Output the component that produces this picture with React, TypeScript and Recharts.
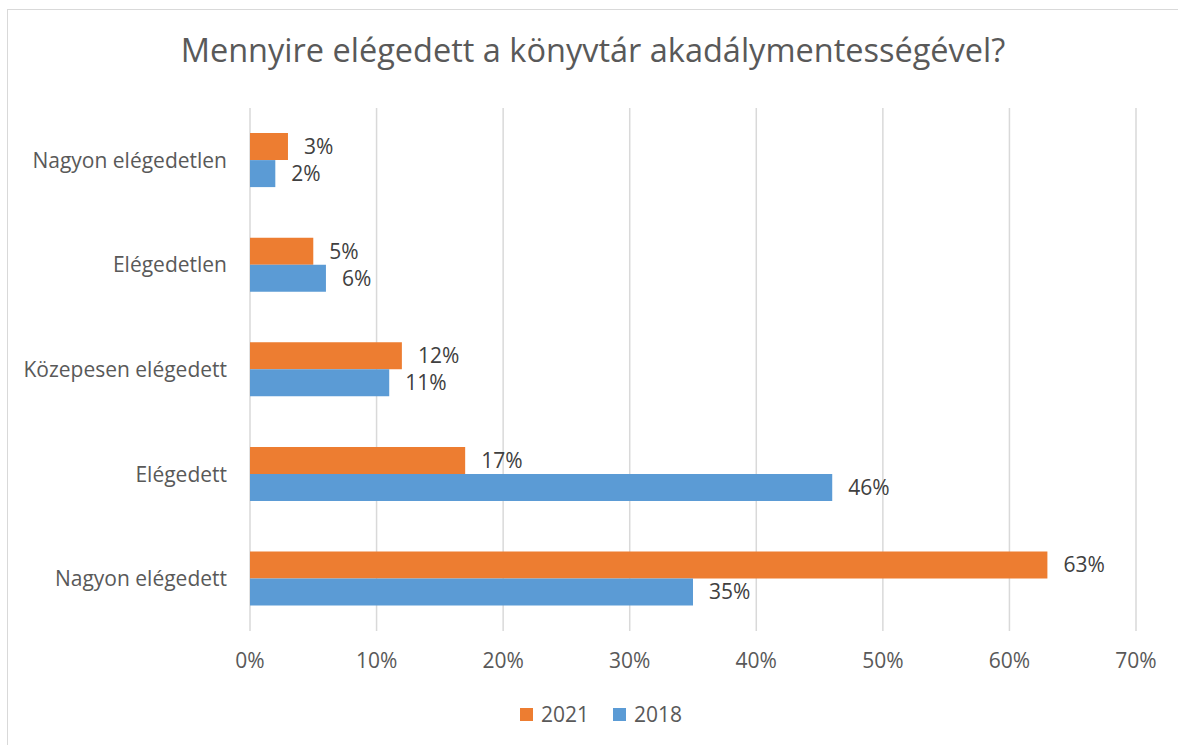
import React from "react";
import {
  BarChart,
  Bar,
  XAxis,
  YAxis,
  CartesianGrid,
  Legend,
  LabelList,
} from "recharts";

const categories = [
  "Nagyon elégedetlen",
  "Elégedetlen",
  "Közepesen elégedett",
  "Elégedett",
  "Nagyon elégedett",
];
const values2021 = [3, 5, 12, 17, 63];
const values2018 = [2, 6, 11, 46, 35];
const xTicks = [0, 10, 20, 30, 40, 50, 60, 70];

const series = [
  { key: "y2021", name: "2021", color: "#ED7D31", values: values2021 },
  { key: "y2018", name: "2018", color: "#5B9BD5", values: values2018 },
];

const data = categories.map((name, i) => ({
  name,
  y2021: values2021[i],
  y2018: values2018[i],
}));

const FONT = "'Open Sans', sans-serif";
const GREY = "#595959";

function LegendBox() {
  return (
    <div
      style={{
        display: "flex",
        justifyContent: "center",
        gap: 24,
        fontSize: 21,
        color: GREY,
        fontFamily: FONT,
      }}
    >
      {series.map((s) => (
        <div key={s.key} style={{ display: "flex", alignItems: "center", gap: 8 }}>
          <span style={{ width: 13, height: 13, background: s.color, display: "inline-block" }} />
          <span>{s.name}</span>
        </div>
      ))}
    </div>
  );
}

export default function App() {
  return (
    <div
      style={{
        position: "absolute",
        left: 7,
        top: 9,
        width: 1170,
        height: 745,
        border: "1px solid #d9d9d9",
        background: "#fff",
        fontFamily: FONT,
      }}
    >
      <div
        style={{
          position: "absolute",
          top: 17,
          left: 0,
          width: 1170,
          textAlign: "center",
          fontSize: 32.5,
          color: GREY,
        }}
      >
        Mennyire elégedett a könyvtár akadálymentességével?
      </div>
      <BarChart
        width={1170}
        height={735}
        data={data}
        layout="vertical"
        barCategoryGap="24%"
        barGap={0}
        margin={{ top: 98, right: 42, left: 0, bottom: 36 }}
      >
        <CartesianGrid horizontal={false} stroke="#d9d9d9" strokeWidth={1.5} />
        <XAxis
          type="number"
          domain={[0, 70]}
          ticks={xTicks}
          tickFormatter={(v) => `${v}%`}
          axisLine={false}
          tickLine={false}
          tickSize={0}
          tickMargin={22}
          height={50}
          tick={{ fill: GREY, fontSize: 21, fontFamily: FONT }}
        />
        <YAxis
          type="category"
          dataKey="name"
          width={242}
          axisLine={false}
          tickLine={false}
          tickSize={0}
          tickMargin={23}
          tick={{ fill: GREY, fontSize: 21, fontFamily: FONT }}
        />
        <Legend
          verticalAlign="bottom"
          content={<LegendBox />}
          wrapperStyle={{ top: 690, bottom: "auto", left: 8, width: 1170 }}
        />
        {series.map((s) => (
          <Bar
            key={s.key}
            dataKey={s.key}
            name={s.name}
            fill={s.color}
            isAnimationActive={false}
          >
            <LabelList
              dataKey={s.key}
              position="right"
              offset={16}
              formatter={(v) => `${v}%`}
              style={{ fill: "#404040", fontSize: 21, fontFamily: FONT }}
            />
          </Bar>
        ))}
      </BarChart>
    </div>
  );
}
